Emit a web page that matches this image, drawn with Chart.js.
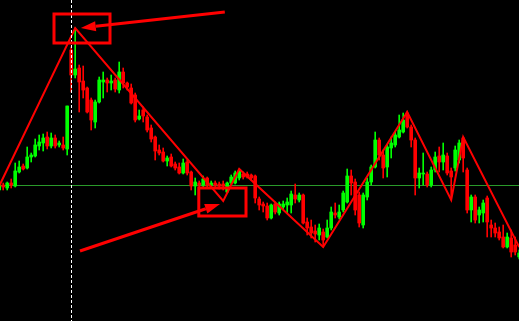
<!DOCTYPE html>
<html>
<head>
<meta charset="utf-8">
<script src="https://cdn.jsdelivr.net/npm/chart.js@4.4.1/dist/chart.umd.min.js"></script>
<style>
  html, body { margin: 0; padding: 0; background: #000; }
  canvas { display: block; }
</style>
</head>
<body>
<canvas id="myChart" width="519" height="321"></canvas>
<script>
// OHLC per bar (index = bar number)
const opens = [131,136,133,138,135,149,155,153,164,165,175,178,184,175,183,176,176,172,271,246,
  253,240,233,221,199,219,239,241,238,241,231,249,238,233,226,202,211,204,193,184,
  171,169,160,164,157,154,148,159,149,135,138,136,143,136,138,137,137,129,138,138,
  143,147,147,146,145,122,117,115,103,117,108,114,116,116,126,121,126,99,94,90,
  86,89,84,93,108,104,111,119,145,139,126,96,124,139,154,181,166,154,173,176,
  184,189,208,194,181,143,147,147,136,151,165,159,165,150,153,161,183,151,111,124,
  106,108,123,96,93,89,84,74,83,76,64];
const highs = [140,138,139,142,158,160,157,174,168,182,186,187,189,188,186,180,184,215,274,293,
  256,255,234,223,221,244,249,243,246,243,259,253,239,237,228,211,214,206,196,185,
  176,173,165,167,159,158,162,161,150,143,140,145,144,140,140,139,140,139,146,150,
  152,149,149,147,146,124,119,118,117,119,119,120,123,130,137,128,127,103,101,96,
  97,92,101,114,118,116,130,152,151,142,129,128,143,156,189,183,171,176,184,189,
  206,208,210,196,183,153,168,149,154,169,174,178,168,153,175,181,184,153,126,126,
  114,121,125,101,98,94,96,88,91,84,71];
const lows = [129,131,131,133,134,148,151,152,159,164,171,170,172,173,173,174,171,166,229,243,
  209,223,208,191,193,218,223,229,231,229,228,233,231,217,199,201,199,189,179,161,
  166,159,155,154,151,147,147,146,131,126,134,134,133,135,133,132,131,128,136,137,
  141,142,143,141,118,111,109,101,102,107,106,112,108,108,118,119,97,86,83,79,
  81,74,83,91,103,102,109,118,126,106,94,93,121,136,153,161,143,144,163,174,
  183,188,193,174,126,133,136,134,134,149,149,151,146,121,150,158,149,108,99,98,
  98,99,84,84,84,81,73,73,64,66,62];
const closes = [138,134,138,136,150,154,152,164,166,176,179,183,175,183,175,178,173,215,246,252,
  239,231,209,201,219,241,241,238,240,232,249,238,234,218,201,205,205,191,182,170,
  168,160,163,155,153,148,158,148,135,139,136,142,136,138,136,135,135,138,144,148,
  150,144,144,143,123,116,115,103,116,109,117,117,119,127,122,126,98,93,88,87,
  93,81,93,109,106,109,128,145,138,111,98,126,139,154,181,166,153,174,178,186,
  191,201,194,181,143,148,148,136,151,164,159,166,148,144,171,178,163,111,124,101,
  111,118,99,93,88,83,74,84,69,69,68];

// zigzag turning points: bar number and price
const zigzagBars = [0, 19, 56, 60, 81, 102, 113, 116, 130];
const zigzagPrices = [135, 293, 120, 152, 74, 209, 121, 184, 74];

const levelPrice = 136;   // horizontal level
const markerBar = 18;     // vertical dashed marker

// marked boxes [bar0, price0, bar1, price1] and arrows [fromBar, fromPrice, toBar, toPrice]
const boxes = [[13.7, 307, 27.7, 278], [49.9, 133, 61.7, 105]];
const arrows = [[56.4, 309, 20.4, 293], [20.2, 70, 55.2, 117]];

const UP = "#00ff00";
const DOWN = "#ff0000";
const colors = opens.map((o, i) => (closes[i] >= o ? UP : DOWN));

const overlay = {
  id: "overlay",
  beforeDatasetsDraw(chart) {
    const { ctx, chartArea, scales } = chart;
    const py = Math.round(scales.y.getPixelForValue(levelPrice)) + 0.5;
    ctx.save();
    ctx.strokeStyle = "#2a9a2a";
    ctx.lineWidth = 1;
    ctx.beginPath();
    ctx.moveTo(chartArea.left, py);
    ctx.lineTo(chartArea.right, py);
    ctx.stroke();
    ctx.restore();
  },
  afterDatasetsDraw(chart) {
    const { ctx, chartArea, scales } = chart;
    const X = (v) => scales.x.getPixelForValue(v);
    const Y = (v) => scales.y.getPixelForValue(v);
    ctx.save();
    // dashed vertical marker
    const px = Math.round(X(markerBar)) + 0.5;
    ctx.strokeStyle = "#ffffff";
    ctx.lineWidth = 1;
    ctx.setLineDash([3, 2]);
    ctx.beginPath();
    ctx.moveTo(px, chartArea.top);
    ctx.lineTo(px, chartArea.bottom);
    ctx.stroke();
    ctx.setLineDash([]);

    ctx.strokeStyle = DOWN;
    ctx.fillStyle = DOWN;
    ctx.lineWidth = 3;
    boxes.forEach(([b0, p0, b1, p1]) => {
      ctx.strokeRect(X(b0), Y(p0), X(b1) - X(b0), Y(p1) - Y(p0));
    });
    arrows.forEach(([b0, p0, b1, p1]) => {
      const x0 = X(b0), y0 = Y(p0), x1 = X(b1), y1 = Y(p1);
      const a = Math.atan2(y1 - y0, x1 - x0);
      const head = 15, half = 5;
      const bx = x1 - head * Math.cos(a), by = y1 - head * Math.sin(a);
      ctx.beginPath();
      ctx.moveTo(x0, y0);
      ctx.lineTo(bx, by);
      ctx.stroke();
      ctx.beginPath();
      ctx.moveTo(x1, y1);
      ctx.lineTo(bx + half * Math.sin(a), by - half * Math.cos(a));
      ctx.lineTo(bx - half * Math.sin(a), by + half * Math.cos(a));
      ctx.closePath();
      ctx.fill();
    });
    ctx.restore();
  }
};

const ctx = document.getElementById("myChart");

new Chart(ctx, {
  type: "bar",
  data: {
    datasets: [
      {
        label: "wicks",
        data: opens.map((o, i) => ({ x: i, y: [lows[i], highs[i]] })),
        backgroundColor: colors,
        barThickness: 1,
        grouped: false,
        order: 3,
      },
      {
        label: "bodies",
        data: opens.map((o, i) => ({ x: i, y: [o, closes[i]] })),
        backgroundColor: colors,
        barThickness: 3,
        grouped: false,
        order: 2,
      },
      {
        type: "line",
        label: "zigzag",
        data: zigzagBars.map((b, i) => ({ x: b, y: zigzagPrices[i] })),
        borderColor: DOWN,
        borderWidth: 2,
        pointRadius: 0,
        tension: 0,
        order: 1,
      },
    ],
  },
  options: {
    responsive: false,
    animation: false,
    layout: { padding: 0 },
    plugins: { legend: { display: false }, tooltip: { enabled: false } },
    scales: {
      x: { type: "linear", min: 0.2, max: 129.95, offset: false, display: false },
      y: { min: 0, max: 321, display: false },
    },
  },
  plugins: [overlay],
});
</script>
</body>
</html>
